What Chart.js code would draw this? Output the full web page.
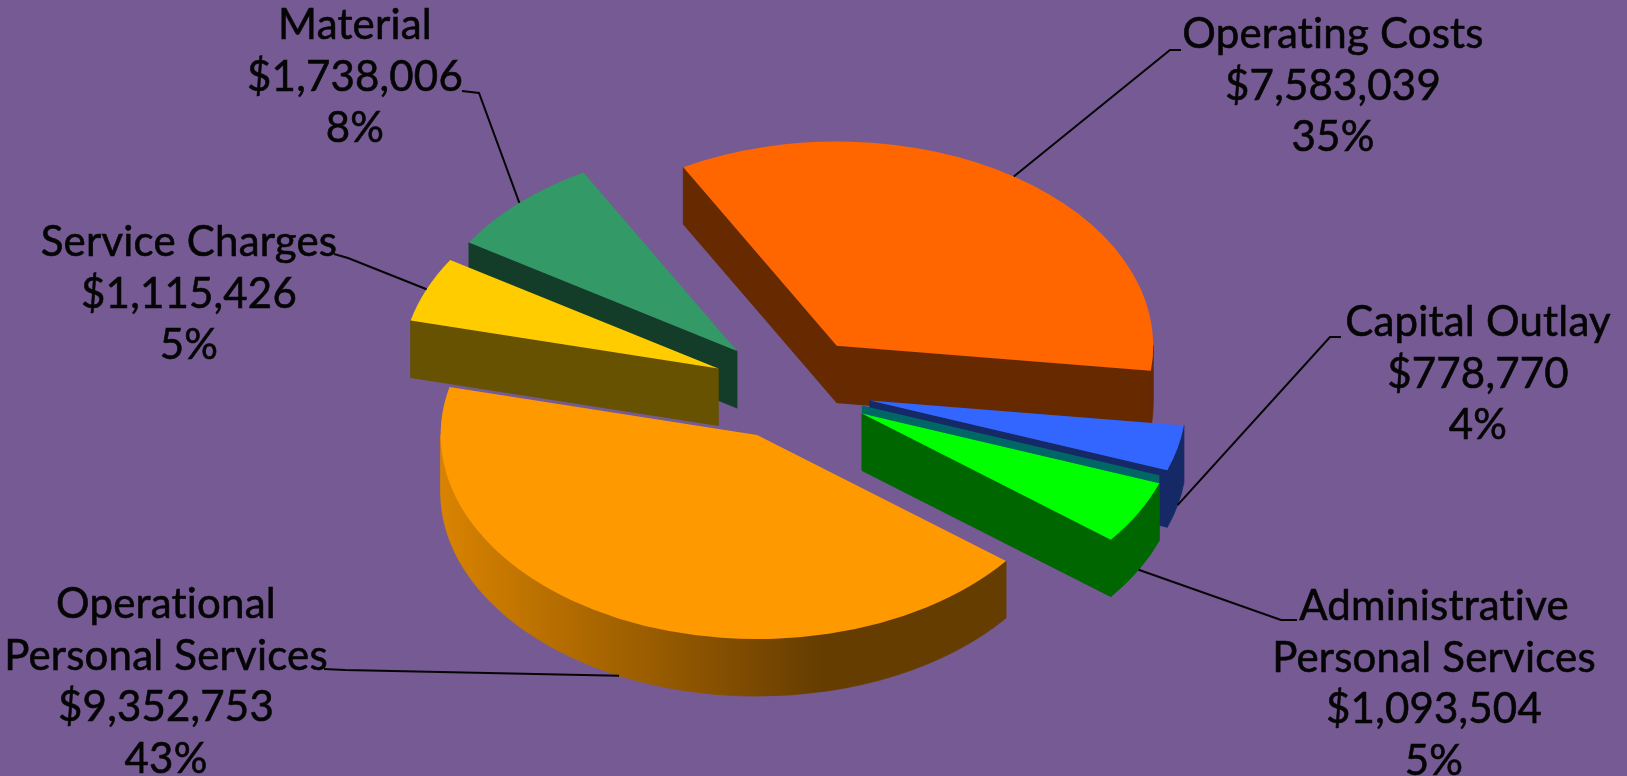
<!DOCTYPE html>
<html>
<head>
<meta charset="utf-8">
<title>Budget pie</title>
<script src="https://cdn.jsdelivr.net/npm/chart.js@4/dist/chart.umd.min.js"></script>
<style>
  html, body { margin: 0; padding: 0; background: #755a93; }
  #box { width: 1627px; height: 776px; position: relative; }
</style>
</head>
<body>
<div id="box"><canvas id="pie"></canvas></div>
<script>
// Data
const categories = ["Operating Costs", "Capital Outlay", "Administrative Personal Services", "Operational Personal Services", "Service Charges", "Material"];
const amounts = [7583039, 778770, 1093504, 9352753, 1115426, 1738006];
const percents = ["35%", "4%", "5%", "43%", "5%", "8%"];

// Colours
const topColors = ["#ff6600", "#3366ff", "#00ff00", "#ff9900", "#ffcc00", "#339966"];
const wallColors = ["#662900", "#142966", "#006600", "#663d00", "#665200", "#143d29"];

// Label layout
const labelRows = [["Operating Costs"], ["Capital Outlay"], ["Administrative", "Personal Services"], ["Operational", "Personal Services"], ["Service Charges"], ["Material"]];
const labelX = [1333, 1478, 1434, 166, 189, 355];
const labelY = [48, 336, 620, 618, 256, 39];
const leaderElbows = [
  [[1181, 50], [1170, 50]],
  [[1341, 337], [1330, 337]],
  [[1297, 620], [1281, 620]],
  [[324, 669], [345, 670]],
  [[334, 254], [348, 258]],
  [[462, 91], [479, 93]]
];

// 3D look
const tilt = 0.645;
const depth = 57;
const explode = 80;
const paintOrder = [0, 3, 5, 4, 1, 2];
const rowHeight = 51.5;

function money(v) {
  return "$" + v.toLocaleString("en-US");
}

// centre of a slice on screen after explode + tilt
function sliceOrigin(arc) {
  const mid = (arc.startAngle + arc.endAngle) / 2;
  return { x: arc.x + Math.cos(mid) * explode, y: arc.y + Math.sin(mid) * explode * tilt };
}

function rimPoint(arc, o, angle) {
  return { x: o.x + Math.cos(angle) * arc.outerRadius, y: o.y + Math.sin(angle) * arc.outerRadius * tilt };
}

function fillCut(ctx, o, p, color) {
  ctx.fillStyle = color;
  ctx.strokeStyle = color;
  ctx.lineWidth = 0.8;
  ctx.beginPath();
  ctx.moveTo(o.x, o.y);
  ctx.lineTo(p.x, p.y);
  ctx.lineTo(p.x, p.y + depth);
  ctx.lineTo(o.x, o.y + depth);
  ctx.closePath();
  ctx.fill();
  ctx.stroke();
}

function drawSlice(ctx, arc, i) {
  const o = sliceOrigin(arc);
  const r = arc.outerRadius;

  // cut faces, only those turned towards us
  if (Math.cos(arc.startAngle) < 0) fillCut(ctx, o, rimPoint(arc, o, arc.startAngle), wallColors[i]);
  if (Math.cos(arc.endAngle) > 0) fillCut(ctx, o, rimPoint(arc, o, arc.endAngle), wallColors[i]);

  // outer rim, only the part facing us
  const lo = Math.max(arc.startAngle, 0);
  const hi = Math.min(arc.endAngle, Math.PI);
  if (hi > lo) {
    let side = wallColors[i];
    if (i === 3) {
      side = ctx.createLinearGradient(o.x - r, 0, o.x + r, 0);
      side.addColorStop(0, "#d98300");
      side.addColorStop(0.6, "#663d00");
      side.addColorStop(1, "#663d00");
    }
    ctx.fillStyle = side;
    ctx.strokeStyle = side;
    ctx.lineWidth = 0.8;
    ctx.beginPath();
    ctx.ellipse(o.x, o.y, r, r * tilt, 0, lo, hi);
    ctx.ellipse(o.x, o.y + depth, r, r * tilt, 0, hi, lo, true);
    ctx.closePath();
    ctx.fill();
    ctx.stroke();
  }

  // seam between the blue and the green slice
  if (i === 2) {
    const p = rimPoint(arc, o, arc.startAngle);
    ctx.fillStyle = "#006666";
    ctx.beginPath();
    ctx.moveTo(o.x, o.y);
    ctx.lineTo(p.x, p.y);
    ctx.lineTo(p.x, p.y - 8);
    ctx.lineTo(o.x, o.y - 8);
    ctx.closePath();
    ctx.fill();
  }

  // top face, library arc under a squashed context
  ctx.save();
  ctx.translate(o.x, o.y);
  ctx.scale(1, tilt);
  ctx.translate(-arc.x, -arc.y);
  arc.draw(ctx);
  ctx.restore();
}

const pie3d = {
  id: "pie3d",
  beforeDatasetDraw(chart) {
    const arcs = chart.getDatasetMeta(0).data;
    paintOrder.forEach(i => drawSlice(chart.ctx, arcs[i], i));
    return false;
  },
  afterDatasetsDraw(chart) {
    const ctx = chart.ctx;
    const arcs = chart.getDatasetMeta(0).data;
    ctx.save();
    ctx.strokeStyle = "#050505";
    ctx.lineWidth = 2;
    arcs.forEach((arc, i) => {
      const mid = (arc.startAngle + arc.endAngle) / 2;
      const end = rimPoint(arc, sliceOrigin(arc), mid);
      const endY = Math.sin(mid) > 0 ? end.y + depth : end.y;
      ctx.beginPath();
      ctx.moveTo(leaderElbows[i][0][0], leaderElbows[i][0][1]);
      ctx.lineTo(leaderElbows[i][1][0], leaderElbows[i][1][1]);
      ctx.lineTo(end.x, endY);
      ctx.stroke();
    });
    ctx.fillStyle = "#050505";
    ctx.lineWidth = 0.6;
    ctx.font = "42px Lato";
    ctx.letterSpacing = "0.2px";
    ctx.textAlign = "center";
    ctx.textBaseline = "alphabetic";
    categories.forEach((c, i) => {
      const rows = labelRows[i].concat([money(amounts[i]), percents[i]]);
      rows.forEach((t, n) => {
        ctx.fillText(t, labelX[i], labelY[i] + n * rowHeight);
        ctx.strokeText(t, labelX[i], labelY[i] + n * rowHeight);
      });
    });
    ctx.restore();
  }
};

new Chart(document.getElementById("pie"), {
  type: "pie",
  data: {
    labels: categories,
    datasets: [{ data: amounts, backgroundColor: topColors, borderWidth: 0 }]
  },
  options: {
    responsive: true,
    maintainAspectRatio: false,
    animation: false,
    rotation: -29,
    layout: { padding: { left: 475.5, right: 518.5, top: 72, bottom: 71 } },
    plugins: { legend: { display: false }, tooltip: { enabled: false } }
  },
  plugins: [pie3d]
});
</script>
</body>
</html>
